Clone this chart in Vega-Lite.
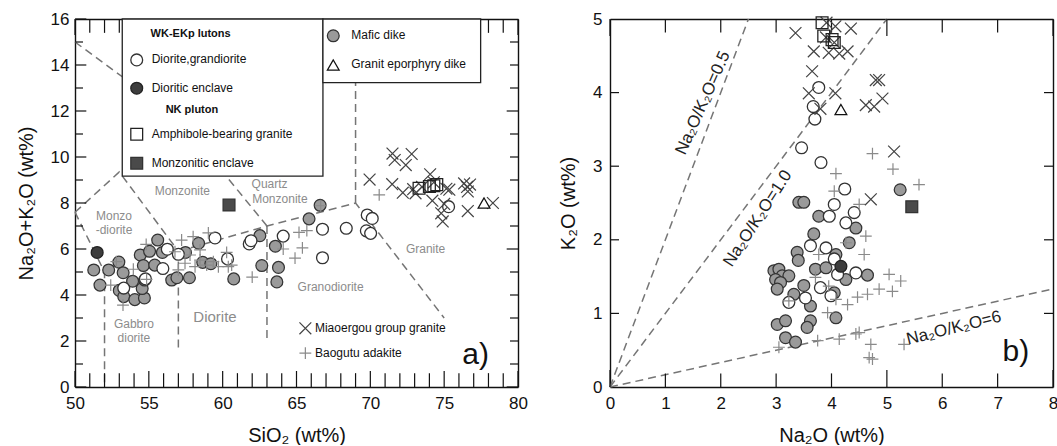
{
  "$schema": "https://vega.github.io/schema/vega-lite/v6.json",
  "padding": {"left": 16, "top": 10, "right": 0, "bottom": 0},
  "config": {
    "font": "Liberation Sans",
    "view": {"stroke": null},
    "concat": {"spacing": 30},
    "axis": {
      "grid": false, "ticks": false, "domainColor": "#111", "domainWidth": 1.4,
      "labelColor": "#111", "titleColor": "#111", "labelFont": "Liberation Sans", "titleFont": "Liberation Sans",
      "labelFontSize": 17, "titleFontSize": 20, "titleFontWeight": "normal", "labelFlush": false, "labelOverlap": false,
      "titlePadding": 14
    },
    "text": {"font": "Liberation Sans"}
  },
  "datasets": {
    "a_ticks": [
      {"x": 50, "y": 0, "side": "b", "kind": "xmaj"}, {"x": 51, "y": 0, "side": "b", "kind": "xmin"}, {"x": 52, "y": 0, "side": "b", "kind": "xmin"}, {"x": 53, "y": 0, "side": "b", "kind": "xmin"}, {"x": 54, "y": 0, "side": "b", "kind": "xmin"},
      {"x": 55, "y": 0, "side": "b", "kind": "xmaj"}, {"x": 56, "y": 0, "side": "b", "kind": "xmin"}, {"x": 57, "y": 0, "side": "b", "kind": "xmin"}, {"x": 58, "y": 0, "side": "b", "kind": "xmin"}, {"x": 59, "y": 0, "side": "b", "kind": "xmin"},
      {"x": 60, "y": 0, "side": "b", "kind": "xmaj"}, {"x": 61, "y": 0, "side": "b", "kind": "xmin"}, {"x": 62, "y": 0, "side": "b", "kind": "xmin"}, {"x": 63, "y": 0, "side": "b", "kind": "xmin"}, {"x": 64, "y": 0, "side": "b", "kind": "xmin"},
      {"x": 65, "y": 0, "side": "b", "kind": "xmaj"}, {"x": 66, "y": 0, "side": "b", "kind": "xmin"}, {"x": 67, "y": 0, "side": "b", "kind": "xmin"}, {"x": 68, "y": 0, "side": "b", "kind": "xmin"}, {"x": 69, "y": 0, "side": "b", "kind": "xmin"},
      {"x": 70, "y": 0, "side": "b", "kind": "xmaj"}, {"x": 71, "y": 0, "side": "b", "kind": "xmin"}, {"x": 72, "y": 0, "side": "b", "kind": "xmin"}, {"x": 73, "y": 0, "side": "b", "kind": "xmin"}, {"x": 74, "y": 0, "side": "b", "kind": "xmin"},
      {"x": 75, "y": 0, "side": "b", "kind": "xmaj"}, {"x": 76, "y": 0, "side": "b", "kind": "xmin"}, {"x": 77, "y": 0, "side": "b", "kind": "xmin"}, {"x": 78, "y": 0, "side": "b", "kind": "xmin"}, {"x": 79, "y": 0, "side": "b", "kind": "xmin"},
      {"x": 80, "y": 0, "side": "b", "kind": "xmaj"},
      {"x": 50, "y": 16, "side": "t", "kind": "xmaj"}, {"x": 51, "y": 16, "side": "t", "kind": "xmin"}, {"x": 52, "y": 16, "side": "t", "kind": "xmin"}, {"x": 53, "y": 16, "side": "t", "kind": "xmin"}, {"x": 54, "y": 16, "side": "t", "kind": "xmin"},
      {"x": 55, "y": 16, "side": "t", "kind": "xmaj"}, {"x": 60, "y": 16, "side": "t", "kind": "xmaj"}, {"x": 65, "y": 16, "side": "t", "kind": "xmaj"}, {"x": 70, "y": 16, "side": "t", "kind": "xmaj"}, {"x": 75, "y": 16, "side": "t", "kind": "xmaj"},
      {"x": 76, "y": 16, "side": "t", "kind": "xmin"}, {"x": 77, "y": 16, "side": "t", "kind": "xmin"}, {"x": 78, "y": 16, "side": "t", "kind": "xmin"}, {"x": 79, "y": 16, "side": "t", "kind": "xmin"}, {"x": 80, "y": 16, "side": "t", "kind": "xmaj"},
      {"x": 50, "y": 0, "side": "l", "kind": "ymaj"}, {"x": 50, "y": 1, "side": "l", "kind": "ymin"}, {"x": 50, "y": 2, "side": "l", "kind": "ymaj"}, {"x": 50, "y": 3, "side": "l", "kind": "ymin"},
      {"x": 50, "y": 4, "side": "l", "kind": "ymaj"}, {"x": 50, "y": 5, "side": "l", "kind": "ymin"}, {"x": 50, "y": 6, "side": "l", "kind": "ymaj"}, {"x": 50, "y": 7, "side": "l", "kind": "ymin"},
      {"x": 50, "y": 8, "side": "l", "kind": "ymaj"}, {"x": 50, "y": 9, "side": "l", "kind": "ymin"}, {"x": 50, "y": 10, "side": "l", "kind": "ymaj"}, {"x": 50, "y": 11, "side": "l", "kind": "ymin"},
      {"x": 50, "y": 12, "side": "l", "kind": "ymaj"}, {"x": 50, "y": 13, "side": "l", "kind": "ymin"}, {"x": 50, "y": 14, "side": "l", "kind": "ymaj"}, {"x": 50, "y": 15, "side": "l", "kind": "ymin"},
      {"x": 50, "y": 16, "side": "l", "kind": "ymaj"},
      {"x": 80, "y": 0, "side": "r", "kind": "ymaj"}, {"x": 80, "y": 1, "side": "r", "kind": "ymin"}, {"x": 80, "y": 2, "side": "r", "kind": "ymin"}, {"x": 80, "y": 3, "side": "r", "kind": "ymin"},
      {"x": 80, "y": 4, "side": "r", "kind": "ymin"}, {"x": 80, "y": 5, "side": "r", "kind": "ymin"}, {"x": 80, "y": 6, "side": "r", "kind": "ymaj"}, {"x": 80, "y": 7, "side": "r", "kind": "ymin"},
      {"x": 80, "y": 8, "side": "r", "kind": "ymin"}, {"x": 80, "y": 9, "side": "r", "kind": "ymin"}, {"x": 80, "y": 10, "side": "r", "kind": "ymin"}, {"x": 80, "y": 11, "side": "r", "kind": "ymin"},
      {"x": 80, "y": 12, "side": "r", "kind": "ymaj"}, {"x": 80, "y": 13, "side": "r", "kind": "ymin"}, {"x": 80, "y": 14, "side": "r", "kind": "ymin"}, {"x": 80, "y": 15, "side": "r", "kind": "ymin"}
    ],
    "b_ticks": [
      {"x": 0, "y": 0, "side": "b", "kind": "xmaj"}, {"x": 1, "y": 0, "side": "b", "kind": "xmin"}, {"x": 2, "y": 0, "side": "b", "kind": "xmin"}, {"x": 3, "y": 0, "side": "b", "kind": "xmin"}, {"x": 4, "y": 0, "side": "b", "kind": "xmin"},
      {"x": 5, "y": 0, "side": "b", "kind": "xmaj"}, {"x": 6, "y": 0, "side": "b", "kind": "xmin"}, {"x": 7, "y": 0, "side": "b", "kind": "xmin"}, {"x": 8, "y": 0, "side": "b", "kind": "xmaj"},
      {"x": 0, "y": 5, "side": "t", "kind": "xmaj"}, {"x": 1, "y": 5, "side": "t", "kind": "xmin"}, {"x": 2, "y": 5, "side": "t", "kind": "xmin"}, {"x": 3, "y": 5, "side": "t", "kind": "xmin"}, {"x": 4, "y": 5, "side": "t", "kind": "xmin"},
      {"x": 5, "y": 5, "side": "t", "kind": "xmaj"}, {"x": 6, "y": 5, "side": "t", "kind": "xmin"}, {"x": 7, "y": 5, "side": "t", "kind": "xmin"}, {"x": 8, "y": 5, "side": "t", "kind": "xmaj"},
      {"x": 0, "y": 1, "side": "l", "kind": "ymin"}, {"x": 0, "y": 2, "side": "l", "kind": "ymin"}, {"x": 0, "y": 3, "side": "l", "kind": "ymin"}, {"x": 0, "y": 4, "side": "l", "kind": "ymin"},
      {"x": 8, "y": 1, "side": "r", "kind": "ymin"}, {"x": 8, "y": 2, "side": "r", "kind": "ymin"}, {"x": 8, "y": 3, "side": "r", "kind": "ymin"}, {"x": 8, "y": 4, "side": "r", "kind": "ymin"}
    ],
    "a_lines": [
      {"seg": "L1", "ord": 0, "x": 50, "y": 15}, {"seg": "L1", "ord": 1, "x": 57, "y": 11.7}, {"seg": "L1", "ord": 2, "x": 63, "y": 7},
      {"seg": "L2", "ord": 0, "x": 50, "y": 7.6}, {"seg": "L2", "ord": 1, "x": 53, "y": 9.35}, {"seg": "L2", "ord": 2, "x": 57, "y": 5.9}, {"seg": "L2", "ord": 3, "x": 57, "y": 1.5},
      {"seg": "L3", "ord": 0, "x": 50, "y": 7.6}, {"seg": "L3", "ord": 1, "x": 52, "y": 5.0}, {"seg": "L3", "ord": 2, "x": 52, "y": 0},
      {"seg": "L4", "ord": 0, "x": 57, "y": 5.9}, {"seg": "L4", "ord": 1, "x": 63, "y": 7}, {"seg": "L4", "ord": 2, "x": 69, "y": 8}, {"seg": "L4", "ord": 3, "x": 75, "y": 3},
      {"seg": "L5", "ord": 0, "x": 63, "y": 7}, {"seg": "L5", "ord": 1, "x": 63, "y": 2},
      {"seg": "L6", "ord": 0, "x": 69, "y": 8}, {"seg": "L6", "ord": 1, "x": 69, "y": 16}
    ],
    "a_boxes": [
      {"x": 53.2, "x2": 66.79, "y": 16, "y2": 9.17},
      {"x": 66.79, "x2": 77.47, "y": 16, "y2": 13.23}
    ],
    "a_pts": [
      {"g": "Mafic dike", "x": 51.27, "y": 5.09}, {"g": "Mafic dike", "x": 52.28, "y": 5.09}, {"g": "Mafic dike", "x": 51.69, "y": 4.43},
      {"g": "Mafic dike", "x": 52.97, "y": 5.43}, {"g": "Mafic dike", "x": 53.26, "y": 4.97}, {"g": "Mafic dike", "x": 53.0, "y": 4.2},
      {"g": "Mafic dike", "x": 53.3, "y": 3.93}, {"g": "Mafic dike", "x": 54.05, "y": 3.8}, {"g": "Mafic dike", "x": 54.7, "y": 3.87},
      {"g": "Mafic dike", "x": 54.55, "y": 4.28}, {"g": "Mafic dike", "x": 54.42, "y": 5.74}, {"g": "Mafic dike", "x": 55.05, "y": 5.9},
      {"g": "Mafic dike", "x": 55.6, "y": 6.39}, {"g": "Mafic dike", "x": 55.92, "y": 5.85}, {"g": "Mafic dike", "x": 54.63, "y": 5.28},
      {"g": "Mafic dike", "x": 55.4, "y": 5.3}, {"g": "Mafic dike", "x": 54.72, "y": 4.65}, {"g": "Mafic dike", "x": 56.55, "y": 4.65},
      {"g": "Mafic dike", "x": 56.9, "y": 4.75}, {"g": "Mafic dike", "x": 57.75, "y": 4.75}, {"g": "Mafic dike", "x": 57.48, "y": 5.85},
      {"g": "Mafic dike", "x": 58.37, "y": 6.25}, {"g": "Mafic dike", "x": 58.65, "y": 5.42}, {"g": "Mafic dike", "x": 59.2, "y": 5.36},
      {"g": "Mafic dike", "x": 60.75, "y": 4.7}, {"g": "Mafic dike", "x": 62.65, "y": 5.28}, {"g": "Mafic dike", "x": 63.78, "y": 5.2},
      {"g": "Mafic dike", "x": 63.67, "y": 4.57}, {"g": "Mafic dike", "x": 62.52, "y": 6.58}, {"g": "Mafic dike", "x": 63.57, "y": 6.12},
      {"g": "Mafic dike", "x": 65.85, "y": 7.31}, {"g": "Mafic dike", "x": 66.6, "y": 7.9}, {"g": "Mafic dike", "x": 53.9, "y": 4.6},
      {"g": "Diorite,grandiorite", "x": 53.3, "y": 4.3}, {"g": "Diorite,grandiorite", "x": 54.77, "y": 4.7}, {"g": "Diorite,grandiorite", "x": 55.95, "y": 5.15},
      {"g": "Diorite,grandiorite", "x": 56.25, "y": 5.99}, {"g": "Diorite,grandiorite", "x": 57.0, "y": 5.77}, {"g": "Diorite,grandiorite", "x": 59.48, "y": 6.48},
      {"g": "Diorite,grandiorite", "x": 60.33, "y": 5.57}, {"g": "Diorite,grandiorite", "x": 61.8, "y": 6.22}, {"g": "Diorite,grandiorite", "x": 61.92, "y": 6.36},
      {"g": "Diorite,grandiorite", "x": 64.1, "y": 6.56}, {"g": "Diorite,grandiorite", "x": 66.76, "y": 6.86}, {"g": "Diorite,grandiorite", "x": 66.76, "y": 5.62},
      {"g": "Diorite,grandiorite", "x": 68.37, "y": 6.9}, {"g": "Diorite,grandiorite", "x": 69.79, "y": 7.48}, {"g": "Diorite,grandiorite", "x": 70.13, "y": 7.33},
      {"g": "Diorite,grandiorite", "x": 69.73, "y": 6.79}, {"g": "Diorite,grandiorite", "x": 70.02, "y": 6.68}, {"g": "Diorite,grandiorite", "x": 75.3, "y": 7.84},
      {"g": "Baogutu adakite", "x": 52.8, "y": 5.45}, {"g": "Baogutu adakite", "x": 52.42, "y": 4.43}, {"g": "Baogutu adakite", "x": 53.25, "y": 3.56},
      {"g": "Baogutu adakite", "x": 53.95, "y": 5.12}, {"g": "Baogutu adakite", "x": 54.82, "y": 6.2}, {"g": "Baogutu adakite", "x": 54.85, "y": 4.68},
      {"g": "Baogutu adakite", "x": 57.22, "y": 6.39}, {"g": "Baogutu adakite", "x": 58.0, "y": 6.54}, {"g": "Baogutu adakite", "x": 59.03, "y": 6.7},
      {"g": "Baogutu adakite", "x": 56.77, "y": 5.88}, {"g": "Baogutu adakite", "x": 57.45, "y": 5.38}, {"g": "Baogutu adakite", "x": 57.79, "y": 5.74},
      {"g": "Baogutu adakite", "x": 58.13, "y": 5.23}, {"g": "Baogutu adakite", "x": 58.47, "y": 5.52}, {"g": "Baogutu adakite", "x": 58.92, "y": 5.3},
      {"g": "Baogutu adakite", "x": 59.37, "y": 5.45}, {"g": "Baogutu adakite", "x": 59.71, "y": 5.23}, {"g": "Baogutu adakite", "x": 60.27, "y": 5.85},
      {"g": "Baogutu adakite", "x": 60.38, "y": 5.23}, {"g": "Baogutu adakite", "x": 60.61, "y": 5.3}, {"g": "Baogutu adakite", "x": 57.0, "y": 5.09},
      {"g": "Baogutu adakite", "x": 58.47, "y": 5.96}, {"g": "Baogutu adakite", "x": 62.0, "y": 4.78}, {"g": "Baogutu adakite", "x": 64.1, "y": 6.0},
      {"g": "Baogutu adakite", "x": 64.9, "y": 5.6}, {"g": "Baogutu adakite", "x": 65.4, "y": 6.05}, {"g": "Baogutu adakite", "x": 65.17, "y": 6.72},
      {"g": "Baogutu adakite", "x": 65.7, "y": 6.8}, {"g": "Baogutu adakite", "x": 66.64, "y": 7.88}, {"g": "Baogutu adakite", "x": 70.6, "y": 8.35},
      {"g": "Miaoergou group granite", "x": 71.5, "y": 10.15}, {"g": "Miaoergou group granite", "x": 72.8, "y": 10.13}, {"g": "Miaoergou group granite", "x": 71.65, "y": 9.87},
      {"g": "Miaoergou group granite", "x": 72.4, "y": 9.65}, {"g": "Miaoergou group granite", "x": 69.95, "y": 9.02}, {"g": "Miaoergou group granite", "x": 71.48, "y": 8.82},
      {"g": "Miaoergou group granite", "x": 72.2, "y": 8.45}, {"g": "Miaoergou group granite", "x": 72.9, "y": 8.6}, {"g": "Miaoergou group granite", "x": 73.06, "y": 8.42},
      {"g": "Miaoergou group granite", "x": 74.05, "y": 9.25}, {"g": "Miaoergou group granite", "x": 74.2, "y": 8.1}, {"g": "Miaoergou group granite", "x": 74.8, "y": 7.55},
      {"g": "Miaoergou group granite", "x": 74.9, "y": 7.2}, {"g": "Miaoergou group granite", "x": 75.0, "y": 7.96}, {"g": "Miaoergou group granite", "x": 75.15, "y": 8.62},
      {"g": "Miaoergou group granite", "x": 75.35, "y": 8.58}, {"g": "Miaoergou group granite", "x": 76.35, "y": 8.85}, {"g": "Miaoergou group granite", "x": 76.55, "y": 8.7},
      {"g": "Miaoergou group granite", "x": 76.75, "y": 8.8}, {"g": "Miaoergou group granite", "x": 76.6, "y": 8.5}, {"g": "Miaoergou group granite", "x": 76.6, "y": 7.65},
      {"g": "Miaoergou group granite", "x": 78.3, "y": 8.0}, {"g": "Miaoergou group granite", "x": 73.5, "y": 8.7}, {"g": "Miaoergou group granite", "x": 74.3, "y": 8.9},
      {"g": "Amphibole-bearing granite", "x": 73.3, "y": 8.64}, {"g": "Amphibole-bearing granite", "x": 74.0, "y": 8.72}, {"g": "Amphibole-bearing granite", "x": 74.3, "y": 8.75},
      {"g": "Amphibole-bearing granite", "x": 74.5, "y": 8.8},
      {"g": "Dioritic enclave", "x": 51.5, "y": 5.85},
      {"g": "Monzonitic enclave", "x": 60.43, "y": 7.91},
      {"g": "Granit eporphyry dike", "x": 77.7, "y": 8.0},
      {"g": "Diorite,grandiorite", "x": 54.18, "y": 14.22}, {"g": "Dioritic enclave", "x": 54.18, "y": 12.99},
      {"g": "Amphibole-bearing granite", "x": 54.18, "y": 10.99}, {"g": "Monzonitic enclave", "x": 54.18, "y": 9.73},
      {"g": "Mafic dike", "x": 67.49, "y": 15.27}, {"g": "Granit eporphyry dike", "x": 67.49, "y": 14.0},
      {"g": "Miaoergou group granite", "x": 65.6, "y": 2.55}, {"g": "Baogutu adakite", "x": 65.6, "y": 1.47}
    ],
    "a_text": [
      {"k": "field", "t": "Monzo", "x": 52.64, "y": 7.42}, {"k": "field", "t": "-diorite", "x": 52.64, "y": 6.82},
      {"k": "field", "t": "Monzonite", "x": 57.27, "y": 8.53},
      {"k": "field", "t": "Gabbro", "x": 53.99, "y": 2.72}, {"k": "field", "t": "diorite", "x": 53.99, "y": 2.15},
      {"k": "field", "t": "Granodiorite", "x": 67.31, "y": 4.33}, {"k": "field", "t": "Granite", "x": 73.74, "y": 6.0},
      {"k": "fieldleft", "t": "Quartz", "x": 61.96, "y": 8.81}, {"k": "fieldleft", "t": "Monzonite", "x": 62.0, "y": 8.17},
      {"k": "fieldbig", "t": "Diorite", "x": 59.48, "y": 3.06},
      {"k": "head", "t": "WK-EKp lutons", "x": 55.12, "y": 15.35}, {"k": "head", "t": "NK pluton", "x": 56.14, "y": 12.04},
      {"k": "leg", "t": "Diorite,grandiorite", "x": 55.19, "y": 14.24}, {"k": "leg", "t": "Dioritic enclave", "x": 55.19, "y": 12.99},
      {"k": "leg", "t": "Amphibole-bearing granite", "x": 55.19, "y": 10.99}, {"k": "leg", "t": "Monzonitic enclave", "x": 55.19, "y": 9.73},
      {"k": "leg", "t": "Mafic dike", "x": 68.71, "y": 15.29}, {"k": "leg", "t": "Granit eporphyry dike", "x": 68.71, "y": 14.03},
      {"k": "leg", "t": "Miaoergou group granite", "x": 66.25, "y": 2.55}, {"k": "leg", "t": "Baogutu adakite", "x": 66.25, "y": 1.47},
      {"k": "panel", "t": "a)", "x": 77.13, "y": 1.39}
    ],
    "b_lines": [
      {"seg": "r05", "ord": 0, "x": 0, "y": 0}, {"seg": "r05", "ord": 1, "x": 2.5, "y": 5},
      {"seg": "r1", "ord": 0, "x": 0, "y": 0}, {"seg": "r1", "ord": 1, "x": 5, "y": 5},
      {"seg": "r6", "ord": 0, "x": 0, "y": 0}, {"seg": "r6", "ord": 1, "x": 8, "y": 1.333}
    ],
    "b_pts": [
      {"g": "Mafic dike", "x": 3.41, "y": 2.51}, {"g": "Mafic dike", "x": 3.5, "y": 2.51}, {"g": "Mafic dike", "x": 3.77, "y": 2.32},
      {"g": "Mafic dike", "x": 3.68, "y": 2.08}, {"g": "Mafic dike", "x": 4.44, "y": 2.16}, {"g": "Mafic dike", "x": 4.32, "y": 1.96},
      {"g": "Mafic dike", "x": 4.08, "y": 1.8}, {"g": "Mafic dike", "x": 3.38, "y": 1.83}, {"g": "Mafic dike", "x": 3.4, "y": 1.72},
      {"g": "Mafic dike", "x": 2.96, "y": 1.58}, {"g": "Mafic dike", "x": 3.05, "y": 1.6}, {"g": "Mafic dike", "x": 3.11, "y": 1.51},
      {"g": "Mafic dike", "x": 3.23, "y": 1.51}, {"g": "Mafic dike", "x": 2.99, "y": 1.46}, {"g": "Mafic dike", "x": 3.08, "y": 1.42},
      {"g": "Mafic dike", "x": 3.02, "y": 1.33}, {"g": "Mafic dike", "x": 3.32, "y": 1.26}, {"g": "Mafic dike", "x": 3.62, "y": 1.1},
      {"g": "Mafic dike", "x": 3.71, "y": 1.6}, {"g": "Mafic dike", "x": 3.9, "y": 1.62}, {"g": "Mafic dike", "x": 4.05, "y": 1.28},
      {"g": "Mafic dike", "x": 4.26, "y": 1.46}, {"g": "Mafic dike", "x": 4.65, "y": 1.52}, {"g": "Mafic dike", "x": 3.02, "y": 0.85},
      {"g": "Mafic dike", "x": 3.17, "y": 0.9}, {"g": "Mafic dike", "x": 3.62, "y": 0.9}, {"g": "Mafic dike", "x": 3.56, "y": 0.81},
      {"g": "Mafic dike", "x": 3.17, "y": 0.67}, {"g": "Mafic dike", "x": 3.35, "y": 0.61}, {"g": "Mafic dike", "x": 4.08, "y": 0.94},
      {"g": "Mafic dike", "x": 3.5, "y": 1.38}, {"g": "Mafic dike", "x": 5.24, "y": 2.68},
      {"g": "Diorite,grandiorite", "x": 3.77, "y": 4.07}, {"g": "Diorite,grandiorite", "x": 3.67, "y": 3.81}, {"g": "Diorite,grandiorite", "x": 3.7, "y": 3.64},
      {"g": "Diorite,grandiorite", "x": 3.46, "y": 3.25}, {"g": "Diorite,grandiorite", "x": 3.81, "y": 3.05}, {"g": "Diorite,grandiorite", "x": 4.24, "y": 2.69},
      {"g": "Diorite,grandiorite", "x": 4.05, "y": 2.48}, {"g": "Diorite,grandiorite", "x": 3.96, "y": 2.32}, {"g": "Diorite,grandiorite", "x": 4.26, "y": 2.23},
      {"g": "Diorite,grandiorite", "x": 4.41, "y": 2.37}, {"g": "Diorite,grandiorite", "x": 3.62, "y": 1.92}, {"g": "Diorite,grandiorite", "x": 3.9, "y": 1.89},
      {"g": "Diorite,grandiorite", "x": 4.05, "y": 1.74}, {"g": "Diorite,grandiorite", "x": 4.11, "y": 1.53}, {"g": "Diorite,grandiorite", "x": 4.44, "y": 1.55},
      {"g": "Diorite,grandiorite", "x": 3.8, "y": 1.35}, {"g": "Diorite,grandiorite", "x": 3.53, "y": 1.21}, {"g": "Diorite,grandiorite", "x": 3.23, "y": 1.15},
      {"g": "Diorite,grandiorite", "x": 3.99, "y": 1.24},
      {"g": "Baogutu adakite", "x": 4.74, "y": 3.17}, {"g": "Baogutu adakite", "x": 5.11, "y": 2.96}, {"g": "Baogutu adakite", "x": 5.58, "y": 2.75},
      {"g": "Baogutu adakite", "x": 4.08, "y": 2.9}, {"g": "Baogutu adakite", "x": 4.05, "y": 2.66}, {"g": "Baogutu adakite", "x": 4.62, "y": 2.05},
      {"g": "Baogutu adakite", "x": 4.59, "y": 1.8}, {"g": "Baogutu adakite", "x": 4.26, "y": 1.96}, {"g": "Baogutu adakite", "x": 3.77, "y": 1.8},
      {"g": "Baogutu adakite", "x": 5.04, "y": 1.53}, {"g": "Baogutu adakite", "x": 5.25, "y": 1.44}, {"g": "Baogutu adakite", "x": 4.86, "y": 1.33},
      {"g": "Baogutu adakite", "x": 5.1, "y": 1.3}, {"g": "Baogutu adakite", "x": 4.65, "y": 1.26}, {"g": "Baogutu adakite", "x": 4.47, "y": 1.22},
      {"g": "Baogutu adakite", "x": 4.29, "y": 1.12}, {"g": "Baogutu adakite", "x": 4.08, "y": 1.19}, {"g": "Baogutu adakite", "x": 3.93, "y": 1.01},
      {"g": "Baogutu adakite", "x": 3.71, "y": 1.49}, {"g": "Baogutu adakite", "x": 3.95, "y": 1.37}, {"g": "Baogutu adakite", "x": 3.23, "y": 1.17},
      {"g": "Baogutu adakite", "x": 3.05, "y": 0.54}, {"g": "Baogutu adakite", "x": 3.75, "y": 0.63}, {"g": "Baogutu adakite", "x": 4.14, "y": 0.65},
      {"g": "Baogutu adakite", "x": 4.44, "y": 0.72}, {"g": "Baogutu adakite", "x": 4.5, "y": 0.74}, {"g": "Baogutu adakite", "x": 4.71, "y": 0.58},
      {"g": "Baogutu adakite", "x": 4.68, "y": 0.4}, {"g": "Baogutu adakite", "x": 4.74, "y": 0.38}, {"g": "Baogutu adakite", "x": 5.31, "y": 0.58},
      {"g": "Baogutu adakite", "x": 4.5, "y": 2.48},
      {"g": "Miaoergou group granite", "x": 3.35, "y": 4.81}, {"g": "Miaoergou group granite", "x": 3.91, "y": 4.95}, {"g": "Miaoergou group granite", "x": 4.07, "y": 4.9},
      {"g": "Miaoergou group granite", "x": 4.35, "y": 4.87}, {"g": "Miaoergou group granite", "x": 3.68, "y": 4.56}, {"g": "Miaoergou group granite", "x": 3.95, "y": 4.54},
      {"g": "Miaoergou group granite", "x": 4.14, "y": 4.53}, {"g": "Miaoergou group granite", "x": 4.29, "y": 4.56}, {"g": "Miaoergou group granite", "x": 3.65, "y": 4.29},
      {"g": "Miaoergou group granite", "x": 4.8, "y": 4.17}, {"g": "Miaoergou group granite", "x": 4.86, "y": 4.17}, {"g": "Miaoergou group granite", "x": 3.59, "y": 3.99},
      {"g": "Miaoergou group granite", "x": 4.07, "y": 3.99}, {"g": "Miaoergou group granite", "x": 3.8, "y": 3.78}, {"g": "Miaoergou group granite", "x": 4.62, "y": 3.83},
      {"g": "Miaoergou group granite", "x": 4.77, "y": 3.81}, {"g": "Miaoergou group granite", "x": 4.92, "y": 3.92}, {"g": "Miaoergou group granite", "x": 5.13, "y": 3.2},
      {"g": "Miaoergou group granite", "x": 4.71, "y": 2.55}, {"g": "Miaoergou group granite", "x": 3.9, "y": 4.75}, {"g": "Miaoergou group granite", "x": 4.05, "y": 4.68},
      {"g": "Amphibole-bearing granite", "x": 3.83, "y": 4.95}, {"g": "Amphibole-bearing granite", "x": 3.86, "y": 4.77},
      {"g": "Amphibole-bearing granite", "x": 4.01, "y": 4.72}, {"g": "Amphibole-bearing granite", "x": 4.05, "y": 4.68},
      {"g": "Dioritic enclave", "x": 4.17, "y": 1.64},
      {"g": "Monzonitic enclave", "x": 5.45, "y": 2.45},
      {"g": "Granit eporphyry dike", "x": 4.17, "y": 3.77}
    ],
    "b_text": [
      {"k": "ratio", "t": "Na₂O/K₂O=0.5", "x": 1.68, "y": 3.86, "a": -66},
      {"k": "ratio", "t": "Na₂O/K₂O=1.0", "x": 2.67, "y": 2.29, "a": -57},
      {"k": "ratio", "t": "Na₂O/K₂O=6", "x": 6.21, "y": 0.8, "a": -14},
      {"k": "panel", "t": "b)", "x": 7.33, "y": 0.47, "a": 0}
    ]
  },
  "hconcat": [
    {
      "width": 443, "height": 368,
      "resolve": {"axis": {"x": "independent", "y": "independent"}, "scale": {"shape": "independent", "size": "independent"}},
      "layer": [
        {
          "data": {"name": "a_lines"},
          "mark": {"type": "line", "strokeDash": [8, 5], "color": "#757575", "strokeWidth": 1.5},
          "encoding": {
            "x": {"field": "x", "type": "quantitative", "scale": {"domain": [50, 80], "nice": false, "zero": false},
              "axis": {"orient": "bottom", "title": "SiO₂ (wt%)", "values": [50, 55, 60, 65, 70, 75, 80], "labelPadding": 8}},
            "y": {"field": "y", "type": "quantitative", "scale": {"domain": [0, 16], "nice": false, "zero": false},
              "axis": {"orient": "left", "title": "Na₂O+K₂O (wt%)", "values": [0, 2, 4, 6, 8, 10, 12, 14, 16], "labelPadding": 6}},
            "detail": {"field": "seg"},
            "order": {"field": "ord"}
          }
        },
        {
          "data": {"name": "a_ticks"},
          "mark": {"type": "point", "filled": false, "opacity": 1, "stroke": "#111", "strokeWidth": 1.2},
          "encoding": {
            "x": {"field": "x", "type": "quantitative", "axis": null},
            "y": {"field": "y", "type": "quantitative", "axis": null},
            "shape": {"field": "side", "type": "nominal", "legend": null, "scale": {"domain": ["b", "t", "l", "r"], "range": ["M0,0L0,-2", "M0,0L0,2", "M0,0L2,0", "M0,0L-2,0"]}},
            "size": {"field": "kind", "type": "nominal", "legend": null, "scale": {"domain": ["xmaj", "xmin", "ymaj", "ymin"], "range": [256, 64, 196, 49]}}
          }
        },
        {
          "data": {"name": "a_boxes"},
          "mark": {"type": "rect", "fill": "white", "stroke": "#222", "strokeWidth": 1.3},
          "encoding": {
            "x": {"field": "x", "type": "quantitative", "axis": {"orient": "top", "title": null, "labels": false}},
            "x2": {"field": "x2"},
            "y": {"field": "y", "type": "quantitative", "axis": {"orient": "right", "title": null, "labels": false}},
            "y2": {"field": "y2"}
          }
        },
        {
          "data": {"name": "a_pts"},
          "mark": {"type": "point", "opacity": 1},
          "encoding": {
            "x": {"field": "x", "type": "quantitative", "axis": null},
            "y": {"field": "y", "type": "quantitative", "axis": null},
            "shape": {"field": "g", "type": "nominal", "legend": null, "scale": {"domain": ["Diorite,grandiorite","Dioritic enclave","Amphibole-bearing granite","Monzonitic enclave","Mafic dike","Granit eporphyry dike","Miaoergou group granite","Baogutu adakite"],
              "range": ["circle","circle","square","square","circle","triangle-up","M-1,-1L1,1M1,-1L-1,1","M-1,0L1,0M0,-1L0,1"]}},
            "fill": {"field": "g", "type": "nominal", "legend": null, "scale": {"domain": ["Diorite,grandiorite","Dioritic enclave","Amphibole-bearing granite","Monzonitic enclave","Mafic dike","Granit eporphyry dike","Miaoergou group granite","Baogutu adakite"],
              "range": ["#ffffff","#3d3d3d","transparent","#4a4a4a","#9a9a9a","#ffffff","transparent","transparent"]}},
            "stroke": {"field": "g", "type": "nominal", "legend": null, "scale": {"domain": ["Diorite,grandiorite","Dioritic enclave","Amphibole-bearing granite","Monzonitic enclave","Mafic dike","Granit eporphyry dike","Miaoergou group granite","Baogutu adakite"],
              "range": ["#333333","#222222","#222222","#333333","#333333","#111111","#444444","#8a8a8a"]}},
            "size": {"field": "g", "type": "nominal", "legend": null, "scale": {"domain": ["Diorite,grandiorite","Dioritic enclave","Amphibole-bearing granite","Monzonitic enclave","Mafic dike","Granit eporphyry dike","Miaoergou group granite","Baogutu adakite"],
              "range": [140, 140, 190, 200, 140, 260, 140, 150]}},
            "strokeWidth": {"field": "g", "type": "nominal", "legend": null, "scale": {"domain": ["Diorite,grandiorite","Dioritic enclave","Amphibole-bearing granite","Monzonitic enclave","Mafic dike","Granit eporphyry dike","Miaoergou group granite","Baogutu adakite"],
              "range": [1.3, 1.2, 1.3, 1.2, 1.2, 1.4, 1.3, 1.7]}}
          }
        },
        {
          "data": {"name": "a_text"},
          "transform": [{"filter": "datum.k === 'field'"}],
          "mark": {"type": "text", "fontSize": 12, "color": "#8c8c8c"},
          "encoding": {"x": {"field": "x", "type": "quantitative", "axis": null}, "y": {"field": "y", "type": "quantitative", "axis": null}, "text": {"field": "t"}}
        },
        {
          "data": {"name": "a_text"},
          "transform": [{"filter": "datum.k === 'fieldleft'"}],
          "mark": {"type": "text", "fontSize": 12, "color": "#8c8c8c", "align": "left"},
          "encoding": {"x": {"field": "x", "type": "quantitative", "axis": null}, "y": {"field": "y", "type": "quantitative", "axis": null}, "text": {"field": "t"}}
        },
        {
          "data": {"name": "a_text"},
          "transform": [{"filter": "datum.k === 'fieldbig'"}],
          "mark": {"type": "text", "fontSize": 15, "color": "#8c8c8c"},
          "encoding": {"x": {"field": "x", "type": "quantitative", "axis": null}, "y": {"field": "y", "type": "quantitative", "axis": null}, "text": {"field": "t"}}
        },
        {
          "data": {"name": "a_text"},
          "transform": [{"filter": "datum.k === 'head'"}],
          "mark": {"type": "text", "fontSize": 11, "fontWeight": "bold", "color": "#111", "align": "left"},
          "encoding": {"x": {"field": "x", "type": "quantitative", "axis": null}, "y": {"field": "y", "type": "quantitative", "axis": null}, "text": {"field": "t"}}
        },
        {
          "data": {"name": "a_text"},
          "transform": [{"filter": "datum.k === 'leg'"}],
          "mark": {"type": "text", "fontSize": 12, "color": "#111", "align": "left"},
          "encoding": {"x": {"field": "x", "type": "quantitative", "axis": null}, "y": {"field": "y", "type": "quantitative", "axis": null}, "text": {"field": "t"}}
        },
        {
          "data": {"name": "a_text"},
          "transform": [{"filter": "datum.k === 'panel'"}],
          "mark": {"type": "text", "fontSize": 30, "color": "#111"},
          "encoding": {"x": {"field": "x", "type": "quantitative", "axis": null}, "y": {"field": "y", "type": "quantitative", "axis": null}, "text": {"field": "t"}}
        }
      ]
    },
    {
      "width": 443, "height": 368,
      "resolve": {"axis": {"x": "independent", "y": "independent"}, "scale": {"shape": "independent", "size": "independent"}},
      "layer": [
        {
          "data": {"name": "b_lines"},
          "mark": {"type": "line", "strokeDash": [8, 5], "color": "#757575", "strokeWidth": 1.5},
          "encoding": {
            "x": {"field": "x", "type": "quantitative", "scale": {"domain": [0, 8], "nice": false, "zero": false},
              "axis": {"orient": "bottom", "title": "Na₂O (wt%)", "values": [0,1,2,3,4,5,6,7,8], "labelPadding": 8}},
            "y": {"field": "y", "type": "quantitative", "scale": {"domain": [0, 5], "nice": false, "zero": false},
              "axis": {"orient": "left", "title": "K₂O (wt%)", "values": [0,1,2,3,4,5], "labelPadding": 8}},
            "detail": {"field": "seg"},
            "order": {"field": "ord"}
          }
        },
        {
          "data": {"name": "b_lines"},
          "mark": {"type": "line", "opacity": 0},
          "encoding": {
            "x": {"field": "x", "type": "quantitative", "axis": {"orient": "top", "title": null, "labels": false}},
            "y": {"field": "y", "type": "quantitative", "axis": {"orient": "right", "title": null, "labels": false}},
            "detail": {"field": "seg"},
            "order": {"field": "ord"}
          }
        },
        {
          "data": {"name": "b_ticks"},
          "mark": {"type": "point", "filled": false, "opacity": 1, "stroke": "#111", "strokeWidth": 1.2},
          "encoding": {
            "x": {"field": "x", "type": "quantitative", "axis": null},
            "y": {"field": "y", "type": "quantitative", "axis": null},
            "shape": {"field": "side", "type": "nominal", "legend": null, "scale": {"domain": ["b", "t", "l", "r"], "range": ["M0,0L0,-2", "M0,0L0,2", "M0,0L2,0", "M0,0L-2,0"]}},
            "size": {"field": "kind", "type": "nominal", "legend": null, "scale": {"domain": ["xmaj", "xmin", "ymin"], "range": [289, 81, 81]}}
          }
        },
        {
          "data": {"name": "b_pts"},
          "mark": {"type": "point", "opacity": 1},
          "encoding": {
            "x": {"field": "x", "type": "quantitative", "axis": null},
            "y": {"field": "y", "type": "quantitative", "axis": null},
            "shape": {"field": "g", "type": "nominal", "legend": null, "scale": {"domain": ["Diorite,grandiorite","Dioritic enclave","Amphibole-bearing granite","Monzonitic enclave","Mafic dike","Granit eporphyry dike","Miaoergou group granite","Baogutu adakite"],
              "range": ["circle","circle","square","square","circle","triangle-up","M-1,-1L1,1M1,-1L-1,1","M-1,0L1,0M0,-1L0,1"]}},
            "fill": {"field": "g", "type": "nominal", "legend": null, "scale": {"domain": ["Diorite,grandiorite","Dioritic enclave","Amphibole-bearing granite","Monzonitic enclave","Mafic dike","Granit eporphyry dike","Miaoergou group granite","Baogutu adakite"],
              "range": ["#ffffff","#3d3d3d","transparent","#4a4a4a","#9a9a9a","#ffffff","transparent","transparent"]}},
            "stroke": {"field": "g", "type": "nominal", "legend": null, "scale": {"domain": ["Diorite,grandiorite","Dioritic enclave","Amphibole-bearing granite","Monzonitic enclave","Mafic dike","Granit eporphyry dike","Miaoergou group granite","Baogutu adakite"],
              "range": ["#333333","#222222","#222222","#333333","#333333","#111111","#444444","#8a8a8a"]}},
            "size": {"field": "g", "type": "nominal", "legend": null, "scale": {"domain": ["Diorite,grandiorite","Dioritic enclave","Amphibole-bearing granite","Monzonitic enclave","Mafic dike","Granit eporphyry dike","Miaoergou group granite","Baogutu adakite"],
              "range": [140, 140, 190, 200, 140, 260, 140, 150]}},
            "strokeWidth": {"field": "g", "type": "nominal", "legend": null, "scale": {"domain": ["Diorite,grandiorite","Dioritic enclave","Amphibole-bearing granite","Monzonitic enclave","Mafic dike","Granit eporphyry dike","Miaoergou group granite","Baogutu adakite"],
              "range": [1.3, 1.2, 1.3, 1.2, 1.2, 1.4, 1.3, 1.7]}}
          }
        },
        {
          "data": {"name": "b_text"},
          "transform": [{"filter": "datum.k === 'ratio'"}],
          "mark": {"type": "text", "fontSize": 17, "color": "#222"},
          "encoding": {
            "x": {"field": "x", "type": "quantitative", "axis": null},
            "y": {"field": "y", "type": "quantitative", "axis": null},
            "text": {"field": "t"},
            "angle": {"field": "a", "type": "quantitative", "scale": null}}
        },
        {
          "data": {"name": "b_text"},
          "transform": [{"filter": "datum.k === 'panel'"}],
          "mark": {"type": "text", "fontSize": 30, "color": "#111"},
          "encoding": {"x": {"field": "x", "type": "quantitative", "axis": null}, "y": {"field": "y", "type": "quantitative", "axis": null}, "text": {"field": "t"}}
        }
      ]
    }
  ]
}
